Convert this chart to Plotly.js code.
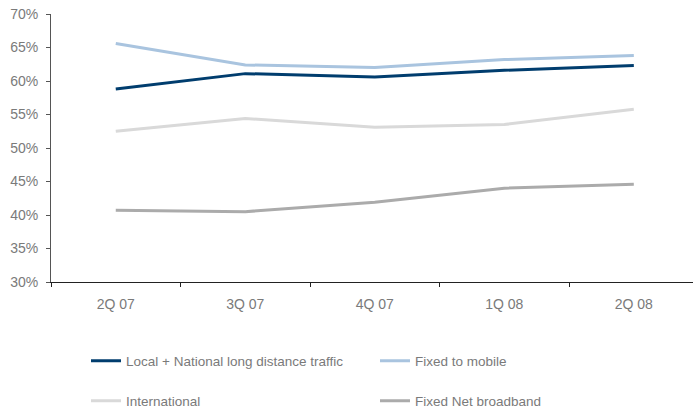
<!DOCTYPE html>
<html>
<head>
<meta charset="utf-8">
<script src="https://cdn.plot.ly/plotly-3.0.1.min.js"></script>
<style>html,body{margin:0;padding:0;background:#fff;}#chart{width:693px;height:412px;}</style>
</head>
<body>
<div id="chart"></div>
<script>
var categories = ["2Q 07", "3Q 07", "4Q 07", "1Q 08", "2Q 08"];
var localNational = [58.8, 61.1, 60.6, 61.6, 62.3];
var fixedToMobile = [65.6, 62.4, 62.0, 63.2, 63.8];
var international = [52.5, 54.4, 53.1, 53.5, 55.8];
var fixedNetBroadband = [40.7, 40.5, 41.9, 44.0, 44.6];
var yTicks = [30, 35, 40, 45, 50, 55, 60, 65, 70];

var font = "Liberation Sans, Arial, sans-serif";
var txtColor = "#7a7a7a";

var traces = [
  {x: categories, y: localNational, name: "Local + National long distance traffic", type: "scatter", mode: "lines",
   line: {color: "#003d6e", width: 3}, legend: "legend"},
  {x: categories, y: fixedToMobile, name: "Fixed to mobile", type: "scatter", mode: "lines",
   line: {color: "#a9c4df", width: 3}, legend: "legend"},
  {x: categories, y: international, name: "International", type: "scatter", mode: "lines",
   line: {color: "#d9d9d9", width: 3}, legend: "legend2"},
  {x: categories, y: fixedNetBroadband, name: "Fixed Net broadband", type: "scatter", mode: "lines",
   line: {color: "#ababab", width: 3}, legend: "legend2"}
];

var legendBase = {
  orientation: "h", xref: "container", yref: "container", xanchor: "left", yanchor: "middle",
  font: {family: font, size: 13.5, color: txtColor}, bgcolor: "rgba(0,0,0,0)",
  entrywidth: 244, entrywidthmode: "pixels", itemclick: false, tracegroupgap: 0
};

var layout = {
  width: 693, height: 412,
  margin: {l: 51, r: 0, t: 14, b: 130, pad: 0},
  paper_bgcolor: "#fff", plot_bgcolor: "#fff",
  showlegend: true,
  xaxis: {
    type: "category", range: [-0.5, 4.457], showgrid: false, zeroline: false,
    showline: true, linecolor: "#222", linewidth: 1,
    ticks: "outside", tickson: "boundaries", ticklen: 4, tickcolor: "#222", tickwidth: 1,
    ticklabelstandoff: 9,
    tickfont: {family: font, size: 14, color: txtColor}
  },
  yaxis: {
    range: [30, 70], tickvals: yTicks, ticktext: yTicks.map(function(v){return v + "%";}),
    showgrid: false, zeroline: false, showline: true, linecolor: "#555", linewidth: 1,
    ticks: "outside", ticklen: 4, tickcolor: "#555", tickwidth: 1,
    ticklabelstandoff: 5,
    tickfont: {family: font, size: 14, color: txtColor}
  },
  legend: Object.assign({}, legendBase, {x: 86/693, y: 1 - 361/412}),
  legend2: Object.assign({}, legendBase, {x: 86/693, y: 1 - 401/412})
};

Plotly.newPlot("chart", traces, layout, {displayModeBar: false, staticPlot: true});
</script>
</body>
</html>
